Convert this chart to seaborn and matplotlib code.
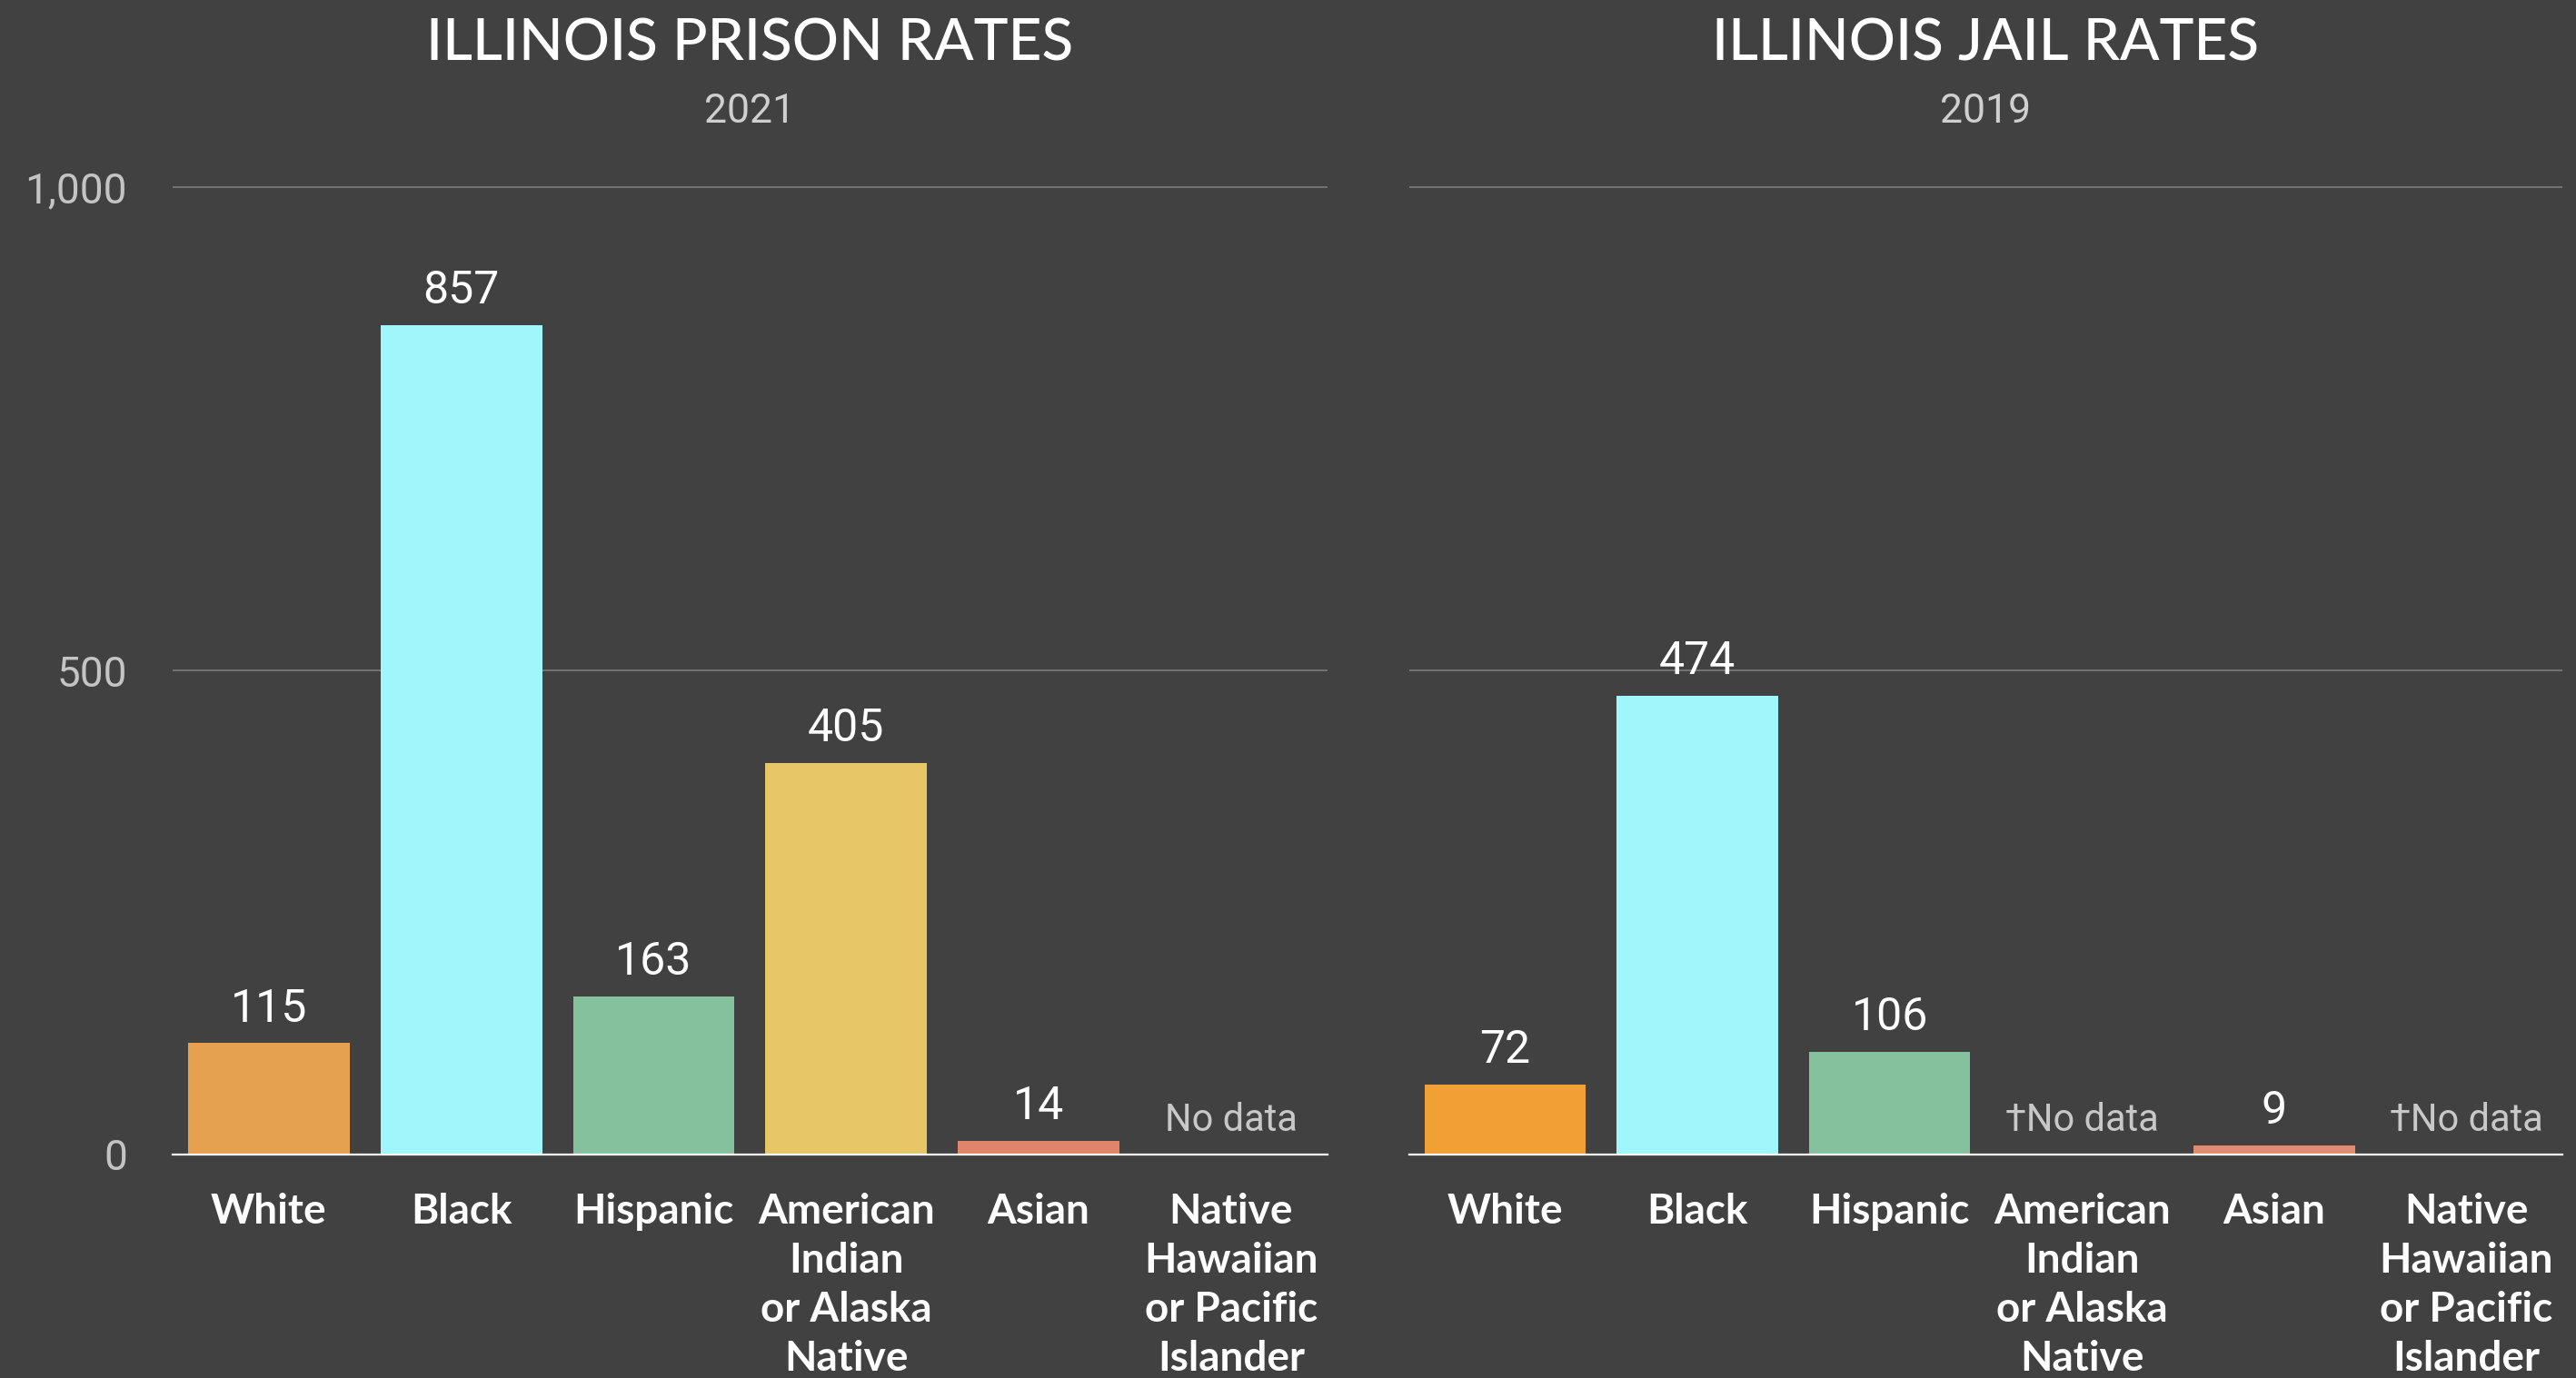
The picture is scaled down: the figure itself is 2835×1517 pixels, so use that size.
import pandas as pd
import seaborn as sns
import matplotlib.pyplot as plt

# data
categories = ["White", "Black", "Hispanic", "American Indian or Alaska Native",
              "Asian", "Native Hawaiian or Pacific Islander"]
tick_labels = ["White", "Black", "Hispanic", "American\nIndian\nor Alaska\nNative",
               "Asian", "Native\nHawaiian\nor Pacific\nIslander"]
prison_2021 = [115, 857, 163, 405, 14, None]
jail_2019 = [72, 474, 106, None, 9, None]
prison_colors = ["#E5A050", "#A0F6FA", "#86C19E", "#E6C666", "#E0846C", "#888888"]
jail_colors = ["#F0A035", "#A0F6FA", "#86C19E", "#E6C666", "#E08C70", "#888888"]
nodata_prison = ["No data", "No data"]
nodata_jail = ["\u2020No data", "\u2020No data"]

bg = "#414141"
sns.set_theme(style="dark")
plt.rcParams["font.family"] = ["Lato", "DejaVu Sans"]

fig = plt.figure(figsize=(28.35, 15.17), dpi=100, facecolor=bg)
ax1 = fig.add_axes([0.067, 0.1622, 0.4483, 0.709])
ax2 = fig.add_axes([0.547, 0.1622, 0.4477, 0.709])


def draw(ax, values, colors, nodata, title, sub, show_y):
    df = pd.DataFrame({"race": categories, "rate": values})
    ax.set_facecolor(bg)
    sns.barplot(data=df, x="race", y="rate", hue="race", order=categories,
                palette=dict(zip(categories, colors)), width=0.84,
                legend=False, ax=ax, zorder=3, saturation=1, linewidth=0)
    ax.set_ylim(0, 1010)
    ax.set_xlim(-0.5, 5.5)
    ax.set_yticks([0, 500, 1000])
    for y in [500, 1000]:
        ax.axhline(y, color="#7c7c7c", lw=1.2, zorder=1)
    for s in ["top", "right", "left"]:
        ax.spines[s].set_visible(False)
    ax.spines["bottom"].set_color("white")
    ax.spines["bottom"].set_linewidth(1.6)
    ax.spines["bottom"].set_zorder(5)
    ax.set_xlabel("")
    ax.set_ylabel("")
    ax.set_xticks(range(6))
    ax.set_xticklabels(tick_labels, fontsize=33, color="white", linespacing=1.36,
                       fontweight="bold")
    ax.tick_params(axis="x", length=0, pad=30)
    if show_y:
        ax.set_yticklabels(["0", "500", "1,000"], fontsize=33, color="#c4c4c4",
                           family=["Roboto", "DejaVu Sans"])
        ax.tick_params(axis="y", length=0, pad=36)
    else:
        ax.set_yticklabels([])
        ax.tick_params(axis="y", length=0)
    k = 0
    for i, v in enumerate(values):
        if v is None:
            ax.annotate(nodata[k], (i, 0), xytext=(0, 12), textcoords="offset points",
                        ha="center", va="bottom", fontsize=30, color="#c8c8c8",
                        family=["Roboto", "DejaVu Sans"])
            k += 1
        else:
            ax.annotate(str(v), (i, v), xytext=(0, 10), textcoords="offset points",
                        ha="center", va="bottom", fontsize=36, color="white",
                        family=["Roboto", "DejaVu Sans"])
    pos = ax.get_position()
    cx = (pos.x0 + pos.x1) / 2
    fig.text(cx, 0.968, title, ha="center", va="center", fontsize=46, color="white",
             fontweight="medium")
    fig.text(cx, 0.919, sub, ha="center", va="center", fontsize=32, color="#cfcfcf",
             family=["Roboto", "DejaVu Sans"])


draw(ax1, prison_2021, prison_colors, nodata_prison, "ILLINOIS PRISON RATES", "2021", True)
draw(ax2, jail_2019, jail_colors, nodata_jail, "ILLINOIS JAIL RATES", "2019", False)

fig.savefig("out.png", dpi=100, facecolor=bg)
